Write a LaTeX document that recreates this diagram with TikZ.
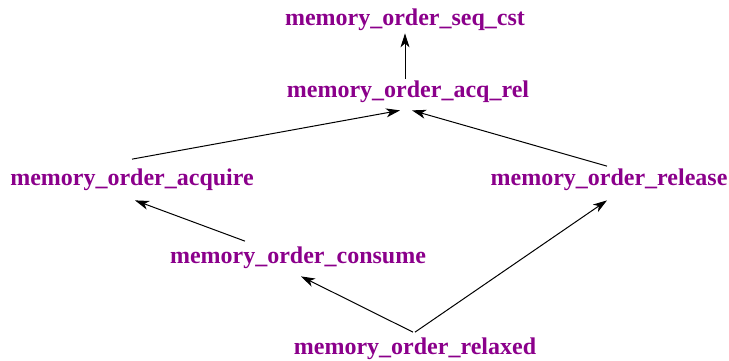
\documentclass[tikz,border=0pt]{standalone}
\usepackage{fontspec}
\setmainfont{Liberation Serif}
\usetikzlibrary{arrows.meta}
\definecolor{orderpurple}{RGB}{139,0,139}

\begin{document}
\begin{tikzpicture}[x=1pt, y=-1pt,
  memorder/.style={anchor=base, text=orderpurple, inner sep=2pt,
    font=\bfseries\fontsize{24}{24}\selectfont},
  arrow/.style={line width=1pt, -{Stealth[length=14pt, width=9pt, inset=4pt]}}]
\useasboundingbox (0,0) rectangle (729,361);

\node[memorder] (seqcst)  at (405,26)  {memory\_order\_seq\_cst};
\node[memorder] (acqrel)  at (408,98)  {memory\_order\_acq\_rel};
\node[memorder] (acquire) at (132,185) {memory\_order\_acquire};
\node[memorder] (release) at (609,185) {memory\_order\_release};
\node[memorder] (consume) at (298,263) {memory\_order\_consume};
\node[memorder] (relaxed) at (415,354) {memory\_order\_relaxed};

\draw[arrow] ([xshift=-3pt]acqrel.north) -- (seqcst.south);
\draw[arrow] ([yshift=7pt]acquire.north) -- ([xshift=-8pt, yshift=-5pt]acqrel.south);
\draw[arrow] ([xshift=-2pt]release.north) -- ([xshift=4pt, yshift=-5pt]acqrel.south);
\draw[arrow] ([xshift=-53pt, yshift=3pt]consume.north) -- ([xshift=3pt, yshift=-8pt]acquire.south);
\draw[arrow] ([xshift=-2pt, yshift=3pt]relaxed.north) -- ([xshift=3pt, yshift=-6pt]consume.south);
\draw[arrow] ([yshift=3pt]relaxed.north) -- ([xshift=-2pt, yshift=-8pt]release.south);

\end{tikzpicture}
\end{document}
